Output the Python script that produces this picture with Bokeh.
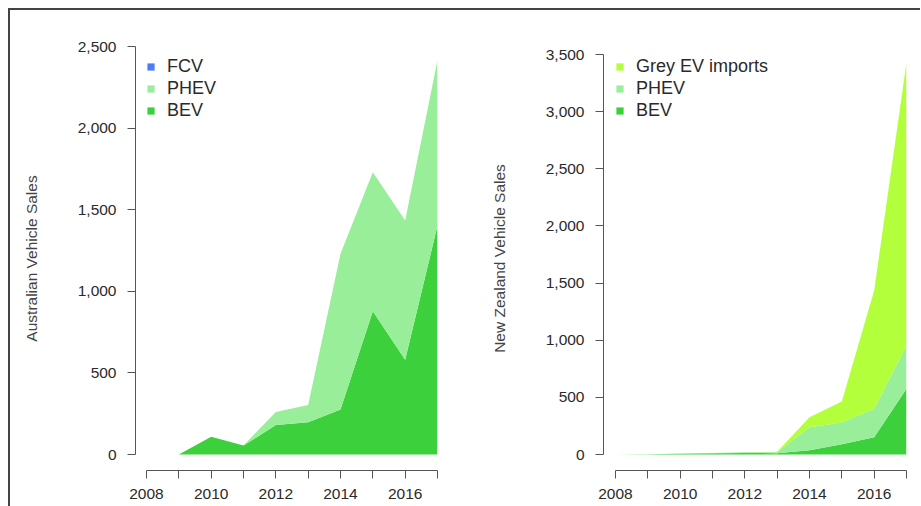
from bokeh.plotting import figure
from bokeh.models import (Range1d, FixedTicker, NumeralTickFormatter, Legend,
                          LegendItem, ColumnDataSource)
from bokeh.layouts import row
from bokeh.embed import file_html
from bokeh.resources import INLINE

# ---------------- data ----------------
years = [2008, 2009, 2010, 2011, 2012, 2013, 2014, 2015, 2016, 2017]
year_label_text = ["2008", "", "2010", "", "2012", "", "2014", "", "2016", ""]

au_bev = [0, 0, 108, 55, 180, 198, 275, 878, 580, 1403]
au_phev = [0, 0, 0, 0, 81, 106, 955, 852, 854, 1015]
au_fcv = [0, 0, 0, 0, 0, 0, 0, 0, 0, 0]
au_yticks = [0, 500, 1000, 1500, 2000, 2500]

nz_bev = [0, 2, 6, 10, 14, 12, 38, 90, 152, 575]
nz_phev = [0, 0, 2, 4, 5, 8, 201, 190, 248, 379]
nz_grey = [0, 0, 0, 0, 1, 5, 88, 183, 1035, 2479]
nz_yticks = [0, 500, 1000, 1500, 2000, 2500, 3000, 3500]

COL_BEV = "#3CD13C"
COL_PHEV = "#99EE99"
COL_FCV = "#4B7BFF"
COL_GREY = "#B3FF3B"

FONT = "Liberation Sans"
TEXT = "#2a2a2a"
AXIS = "#555555"


def base_fig(width, height, xr, yr, b_left, b_right, b_top, b_bottom,
             ylabel, yticks):
    p = figure(width=width, height=height, x_range=xr, y_range=yr,
               output_backend="svg", toolbar_location=None,
               min_border_left=b_left, min_border_right=b_right,
               min_border_top=b_top, min_border_bottom=b_bottom)
    p.outline_line_color = None
    p.grid.visible = False
    p.background_fill_color = "white"
    p.border_fill_color = "white"

    xa = p.xaxis[0]
    xa.ticker = FixedTicker(ticks=years)
    xa.major_label_overrides = {y: t for y, t in zip(years, year_label_text)}
    xa.bounds = (years[0], years[-1])
    xa.minor_tick_line_color = None
    xa.major_tick_out = 8
    xa.major_tick_in = 0
    xa.major_label_standoff = 10
    xa.axis_line_color = AXIS
    xa.major_tick_line_color = AXIS
    xa.major_label_text_font = FONT
    xa.major_label_text_font_size = "15.5px"
    xa.major_label_text_color = TEXT

    ya = p.yaxis[0]
    ya.ticker = FixedTicker(ticks=yticks)
    ya.formatter = NumeralTickFormatter(format="0,0")
    ya.bounds = (yticks[0], yticks[-1])
    ya.minor_tick_line_color = None
    ya.major_tick_out = 8
    ya.major_tick_in = 0
    ya.major_label_standoff = 11
    ya.axis_line_color = AXIS
    ya.major_tick_line_color = AXIS
    ya.major_label_text_font = FONT
    ya.major_label_text_font_size = "15.5px"
    ya.major_label_text_color = TEXT
    ya.axis_label = ylabel
    ya.axis_label_text_font = FONT
    ya.axis_label_text_font_size = "15.5px"
    ya.axis_label_text_font_style = "normal"
    ya.axis_label_text_color = "#444444"
    ya.axis_label_standoff = 35
    return p


def make_legend(p, items, loc):
    lg = Legend(items=items, location=loc)
    lg.glyph_width = 9
    lg.glyph_height = 9
    lg.label_standoff = 12
    lg.label_height = 22
    lg.spacing = 0
    lg.padding = 0
    lg.margin = 0
    lg.border_line_color = None
    lg.background_fill_alpha = 0
    lg.label_text_font = FONT
    lg.label_text_font_size = "18px"
    lg.label_text_color = TEXT
    p.add_layout(lg)


# ---------------- Australia ----------------
au_src = ColumnDataSource(dict(year=years, bev=au_bev, phev=au_phev, fcv=au_fcv))
p1 = base_fig(450, 496,
              Range1d(2008 - 11 / 32.333, 2017),
              Range1d(-16 * 2500 / 408, 2500),
              125, 23, 36, 36,
              "Australian Vehicle Sales", au_yticks)
r_au = p1.varea_stack(stackers=["bev", "phev", "fcv"], x="year",
                      color=[COL_BEV, COL_PHEV, COL_FCV], source=au_src)
make_legend(p1, [LegendItem(label="FCV", renderers=[r_au[2]]),
                 LegendItem(label="PHEV", renderers=[r_au[1]]),
                 LegendItem(label="BEV", renderers=[r_au[0]])], (11, 349))

# ---------------- New Zealand ----------------
nz_src = ColumnDataSource(dict(year=years, bev=nz_bev, phev=nz_phev, grey=nz_grey))
p2 = base_fig(460, 496,
              Range1d(2008 - 12 / 32.333, 2017),
              Range1d(-16 * 3500 / 400, 3500 + 8 * 3500 / 400),
              143, 14, 36, 36,
              "New Zealand Vehicle Sales", nz_yticks)
r_nz = p2.varea_stack(stackers=["bev", "phev", "grey"], x="year",
                      color=[COL_BEV, COL_PHEV, COL_GREY], source=nz_src)
make_legend(p2, [LegendItem(label="Grey EV imports", renderers=[r_nz[2]]),
                 LegendItem(label="PHEV", renderers=[r_nz[1]]),
                 LegendItem(label="BEV", renderers=[r_nz[0]])], (12, 349))

layout = row(p1, p2, styles={"border-top": "2px solid #444444",
                             "border-left": "2px solid #444444",
                             "margin-top": "8px",
                             "margin-left": "8px"})

open("out.html", "w").write(file_html(layout, INLINE))
